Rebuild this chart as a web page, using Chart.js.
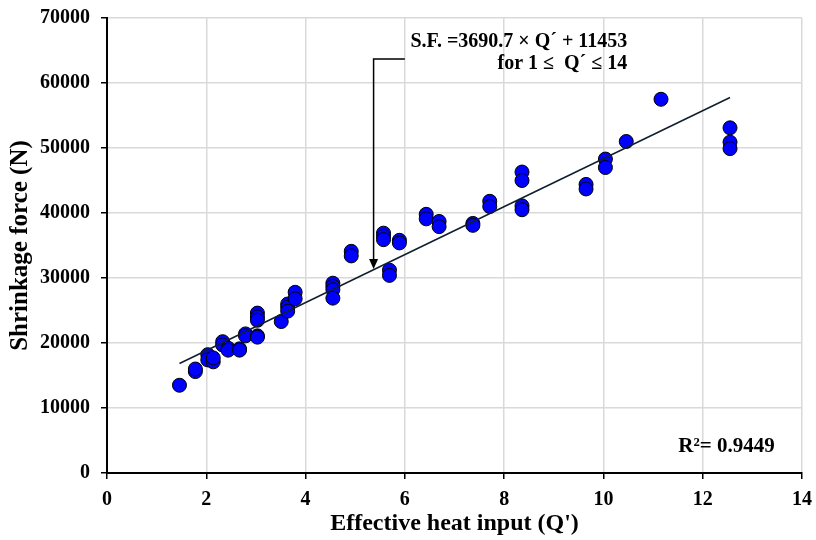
<!DOCTYPE html>
<html>
<head>
<meta charset="utf-8">
<script src="https://cdn.jsdelivr.net/npm/chart.js@4"></script>
<style>
  body { margin: 0; background: #fff; }
  #wrap { width: 816px; height: 540px; }
</style>
</head>
<body>
<div id="wrap"><canvas id="myChart" width="816" height="540"></canvas></div>
<script>
// effective heat input Q' and measured shrinkage force (N)
const qValues = [1.46, 1.78, 1.78, 2.03, 2.03, 2.14, 2.14, 2.33, 2.33, 2.44, 2.44, 2.67, 2.67,
    2.79, 2.79, 3.03, 3.03, 3.03, 3.03, 3.03, 3.51, 3.64, 3.64, 3.64, 3.79, 3.79,
    4.55, 4.55, 4.55, 4.55, 4.92, 4.92, 5.57, 5.57, 5.57, 5.69, 5.69, 5.89, 5.89,
    6.43, 6.43, 6.69, 6.69, 7.37, 7.37, 7.71, 7.71, 8.36, 8.36, 8.36, 8.36,
    9.65, 9.65, 10.04, 10.04, 10.46, 11.16, 12.55, 12.55, 12.55];
const forceValues = [13500, 15600, 16000, 18200, 17400, 17100, 17700, 20200, 19700, 19200, 18900, 19100, 18900,
    21400, 21100, 24600, 24000, 23500, 21100, 20900, 23300, 26000, 25500, 24900, 27800, 26800,
    29200, 28700, 28200, 26900, 34100, 33400, 36900, 36400, 35900, 31200, 30400, 35800, 35400,
    39800, 39100, 38700, 37900, 38400, 38100, 41800, 41000, 46300, 45000, 41100, 40500,
    44400, 43700, 48300, 47000, 51000, 57500, 53100, 50900, 49900];
// linear fit end points
const fitQ = [1.46, 12.55];
const fitForce = [16840, 57770];
const xTicks = [0, 2, 4, 6, 8, 10, 12, 14];
const yTicks = [0, 10000, 20000, 30000, 40000, 50000, 60000, 70000];

const serif = "'Liberation Serif', 'Times New Roman', serif";

const notes = {
    id: 'notes',
    afterDatasetsDraw(chart) {
        const ctx = chart.ctx;
        const x = chart.scales.x, y = chart.scales.y;
        ctx.save();
        // arrow
        const ax = x.getPixelForValue(5.37);
        const top = y.getPixelForValue(63700);
        const tip = y.getPixelForValue(31400);
        ctx.strokeStyle = '#000';
        ctx.lineWidth = 1.5;
        ctx.beginPath();
        ctx.moveTo(x.getPixelForValue(6.0), top);
        ctx.lineTo(ax, top);
        ctx.lineTo(ax, tip - 8);
        ctx.stroke();
        ctx.fillStyle = '#000';
        ctx.beginPath();
        ctx.moveTo(ax - 4.5, tip - 10);
        ctx.lineTo(ax + 4.5, tip - 10);
        ctx.lineTo(ax, tip);
        ctx.closePath();
        ctx.fill();
        // equation
        ctx.font = 'bold 20px ' + serif;
        ctx.textAlign = 'right';
        ctx.textBaseline = 'middle';
        const tx = x.getPixelForValue(10.48);
        ctx.fillText('S.F. =3690.7 \u00d7 Q\u00b4 + 11453', tx, y.getPixelForValue(66400));
        ctx.fillText('for 1 \u2264  Q\u00b4 \u2264 14', tx, y.getPixelForValue(63000));
        ctx.font = 'bold 21px ' + serif;
        ctx.fillText('R\u00b2= 0.9449', x.getPixelForValue(13.45), y.getPixelForValue(4000));
        ctx.restore();
    }
};

const ctx = document.getElementById('myChart').getContext('2d');
const myChart = new Chart(ctx, {
    type: 'scatter',
    data: {
        datasets: [{
            label: 'Data',
            data: qValues.map((q, i) => ({ x: q, y: forceValues[i] })),
            backgroundColor: '#0000ff',
            borderColor: '#000',
            borderWidth: 1,
            pointRadius: 7,
            order: 2,
        }, {
            type: 'line',
            label: 'Fit',
            data: fitQ.map((q, i) => ({ x: q, y: fitForce[i] })),
            borderColor: '#0f1e2e',
            borderWidth: 1.5,
            pointRadius: 0,
            fill: false,
            order: 1,
        }]
    },
    options: {
        responsive: false,
        animation: false,
        layout: { padding: { left: 0, right: 14, top: 18, bottom: 0 } },
        scales: {
            x: {
                type: 'linear',
                min: 0, max: 14,
                afterBuildTicks: s => { s.ticks = xTicks.map(v => ({ value: v })); },
                afterFit: s => { s.height = 67; s.paddingLeft = 0; s.paddingRight = 0; },
                grid: { color: '#d9d9d9', lineWidth: 1.5, tickColor: '#000', tickLength: 6 },
                border: { color: '#000', width: 2 },
                ticks: { color: '#000', font: { family: serif, size: 20, weight: 'bold' }, padding: 9, maxRotation: 0,
                    callback: v => String(v) },
                title: { display: true, text: "Effective heat input (Q')", color: '#000',
                    font: { family: serif, size: 24, weight: 'bold' }, padding: { top: 4, bottom: 2 } },
            },
            y: {
                min: 0, max: 70000,
                afterBuildTicks: s => { s.ticks = yTicks.map(v => ({ value: v })); },
                afterFit: s => { s.width = 107; s.paddingTop = 0; s.paddingBottom = 0; },
                grid: { color: '#d9d9d9', lineWidth: 1.5, tickColor: '#000', tickLength: 6 },
                border: { color: '#000', width: 2 },
                ticks: { color: '#000', font: { family: serif, size: 20, weight: 'bold' }, padding: 11,
                    callback: v => String(v) },
                title: { display: true, text: 'Shrinkage force (N)', color: '#000',
                    font: { family: serif, size: 25, weight: 'bold' }, padding: { top: 6, bottom: 0 } },
            },
        },
        plugins: {
            legend: { display: false },
            tooltip: { enabled: false },
        }
    },
    plugins: [notes]
});
</script>
</body>
</html>
